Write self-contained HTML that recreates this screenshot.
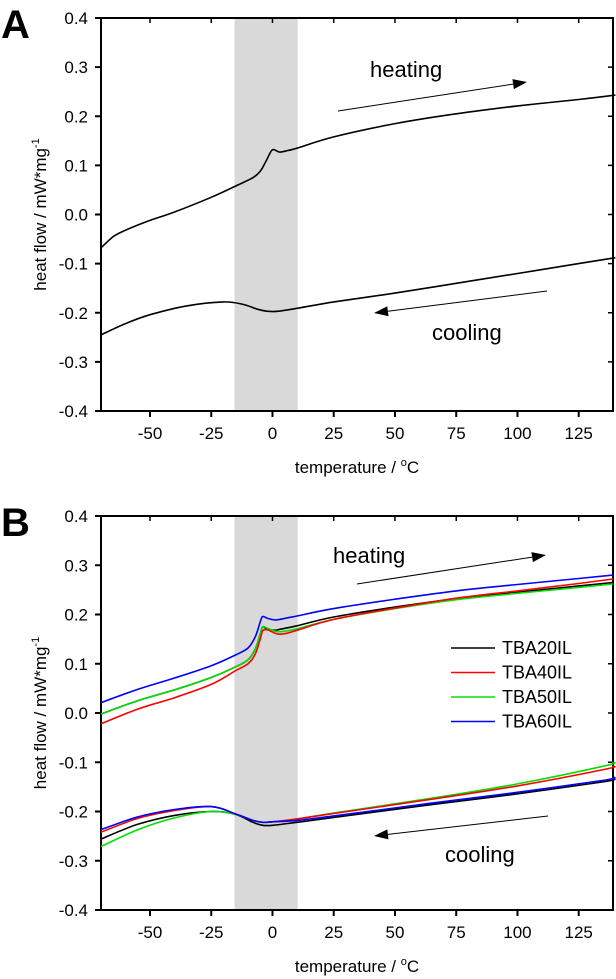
<!DOCTYPE html>
<html><head><meta charset="utf-8"><style>
html,body{margin:0;padding:0;background:#fff}
svg{display:block;font-family:"Liberation Sans",Arial,sans-serif}
</style></head><body>
<svg id="fig" width="616" height="979" viewBox="0 0 616 979"></svg>
<script>
// ---- data ----
const xTicks=[-50,-25,0,25,50,75,100,125];
const yTicks=[0.4,0.3,0.2,0.1,0.0,-0.1,-0.2,-0.3,-0.4];
const yTickLabels=["0.4","0.3","0.2","0.1","0.0","-0.1","-0.2","-0.3","-0.4"];
const aHeatT=[-70,-65,-60,-50,-40,-25,-15,-8,-5,-3,-1,0,1.5,3,6,10,25,50,75,100,125,140];
const aHeatV=[-0.068,-0.045,-0.032,-0.012,0.005,0.035,0.058,0.075,0.088,0.105,0.125,0.132,0.13,0.127,0.13,0.135,0.158,0.185,0.205,0.221,0.234,0.243];
const aCoolT=[-70,-60,-50,-35,-20,-12,-6,-2,2,10,25,50,75,100,125,140];
const aCoolV=[-0.245,-0.222,-0.204,-0.186,-0.178,-0.183,-0.193,-0.197,-0.197,-0.191,-0.178,-0.16,-0.14,-0.12,-0.1,-0.088];
const bNames=["TBA20IL","TBA40IL","TBA50IL","TBA60IL"];
const bHeatT=[-70,-55,-40,-25,-15,-10,-7,-5,-4,-2,1,3,6,10,25,50,75,100,125,139];
const bHeat20=[-0.002,0.025,0.047,0.072,0.094,0.108,0.13,0.16,0.175,0.17,0.168,0.17,0.173,0.177,0.195,0.215,0.232,0.245,0.258,0.265];
const bHeat40=[-0.022,0.008,0.031,0.058,0.086,0.1,0.12,0.15,0.167,0.169,0.162,0.16,0.162,0.168,0.19,0.213,0.233,0.248,0.263,0.272];
const bHeat50=[-0.002,0.025,0.047,0.072,0.094,0.108,0.13,0.16,0.175,0.172,0.166,0.165,0.167,0.171,0.19,0.212,0.23,0.243,0.255,0.262];
const bHeat60=[0.021,0.048,0.071,0.096,0.118,0.132,0.155,0.185,0.196,0.192,0.189,0.19,0.193,0.197,0.212,0.231,0.248,0.261,0.273,0.28];
const bCoolT=[-70,-55,-40,-25,-15,-8,-4,0,10,25,65,100,136,139];
const bCool20=[-0.256,-0.226,-0.208,-0.2,-0.206,-0.222,-0.228,-0.228,-0.222,-0.212,-0.186,-0.164,-0.139,-0.133];
const bCool40=[-0.242,-0.214,-0.198,-0.19,-0.205,-0.218,-0.222,-0.221,-0.215,-0.204,-0.175,-0.148,-0.114,-0.108];
const bCool50=[-0.271,-0.237,-0.213,-0.2,-0.206,-0.218,-0.222,-0.221,-0.215,-0.203,-0.173,-0.144,-0.107,-0.1];
const bCool60=[-0.237,-0.211,-0.196,-0.19,-0.205,-0.218,-0.222,-0.221,-0.218,-0.209,-0.183,-0.161,-0.136,-0.13];
const colors=["#000000","#ff0000","#00e000","#0000ff"];

const NS="http://www.w3.org/2000/svg";
const svg=document.getElementById('fig');
function mk(tag,attrs,parent){const e=document.createElementNS(NS,tag);for(const k in attrs)e.setAttribute(k,attrs[k]);(parent||svg).appendChild(e);return e;}
const X0=101,X1=613,T0=-70,T1=139;
function sx(t){return X0+(t-T0)*(X1-X0)/(T1-T0);}
function smooth(pts){let d="M"+pts[0][0].toFixed(1)+","+pts[0][1].toFixed(1);
 for(let i=0;i<pts.length-1;i++){const p0=pts[Math.max(0,i-1)],p1=pts[i],p2=pts[i+1],p3=pts[Math.min(pts.length-1,i+2)];
  const c1=[p1[0]+(p2[0]-p0[0])/6,p1[1]+(p2[1]-p0[1])/6],c2=[p2[0]-(p3[0]-p1[0])/6,p2[1]-(p3[1]-p1[1])/6];
  d+="C"+c1.map(v=>v.toFixed(1)).join(",")+" "+c2.map(v=>v.toFixed(1)).join(",")+" "+p2[0].toFixed(1)+","+p2[1].toFixed(1);}
 return d;}

function panel(letter,Ytop,Ybot,pfx){
 const sy=v=>Ytop+(0.4-v)*(Ybot-Ytop)/0.8;
 const g=mk('g',{});
 
 
 const sh=mk('rect',{x:sx(-15.5),y:Ytop,width:sx(10.3)-sx(-15.5),height:Ybot-Ytop,fill:'#d9d9d9'},g);
 
 
 const fr=mk('rect',{x:X0,y:Ytop,width:X1-X0,height:Ybot-Ytop,fill:'none',stroke:'#000','stroke-width':2},g);
 
 
 xTicks.forEach(t=>{const x=sx(t);
  mk('line',{x1:x,x2:x,y1:Ybot,y2:Ybot+6,stroke:'#000','stroke-width':2},g);
  mk('line',{x1:x,x2:x,y1:Ytop,y2:Ytop+5,stroke:'#000','stroke-width':1.5},g);
  const tl=mk('text',{x:x,y:Ybot+28,'font-size':17,'text-anchor':'middle',fill:'#000'},g);tl.textContent=t;
  
  });
 yTicks.forEach((v,i)=>{const y=sy(v);
  mk('line',{x1:X0-6,x2:X0,y1:y,y2:y,stroke:'#000','stroke-width':2},g);
  mk('line',{x1:X1-5,x2:X1,y1:y,y2:y,stroke:'#000','stroke-width':1.5},g);
  const tl=mk('text',{x:88,y:y+6,'font-size':17,'text-anchor':'end',fill:'#000'},g);tl.textContent=yTickLabels[i];
  
  });
 const xt=mk('text',{x:357,y:Ybot+62,'font-size':17,'text-anchor':'middle'},g);
 xt.innerHTML='temperature / <tspan font-size="11" dy="-7">o</tspan><tspan dy="7">C</tspan>';
 
 
 const cy=(Ytop+Ybot)/2;
 const yt=mk('text',{x:0,y:0,'font-size':17,'text-anchor':'middle',transform:`translate(46,${cy}) rotate(-90)`},g);
 yt.innerHTML='heat flow / mW*mg<tspan font-size="11" dy="-7">-1</tspan>';
 
 
 const L=mk('text',{x:1,y:Ytop+20,'font-size':40,'font-weight':'bold'},g);L.textContent=letter;
 
 
 return {g,sy};
}
function curve(g,sy,T,V,col,name){
 const p=mk('path',{d:smooth(T.map((t,i)=>[sx(t),sy(V[i])])),fill:'none',stroke:col,'stroke-width':1.6},g);
 
 
}
function arrow(g,x1,y1,x2,y2,name){
 const a=Math.atan2(y2-y1,x2-x1),L=14,W=5;
 const bx=x2-L*Math.cos(a),by=y2-L*Math.sin(a);
 const grp=mk('g',{},g);
 
 
 mk('line',{x1:x1,y1:y1,x2:bx,y2:by,stroke:'#000','stroke-width':1},grp);
 mk('polygon',{points:`${x2},${y2} ${bx-W*Math.sin(a)},${by+W*Math.cos(a)} ${bx+W*Math.sin(a)},${by-W*Math.cos(a)}`,fill:'#000'},grp);
}
function label(g,x,y,txt,name){const t=mk('text',{x:x,y:y,'font-size':22},g);t.textContent=txt;
 
 }

// Panel A
const A=panel('A',18,411,'a');
curve(A.g,A.sy,aHeatT,aHeatV,'#000','heating-curve');
curve(A.g,A.sy,aCoolT,aCoolV,'#000','cooling-curve');
label(A.g,370,77,'heating','heating-label');
arrow(A.g,338,111,527,82,'heating-arrow');
label(A.g,432,340,'cooling','cooling-label');
arrow(A.g,547,291,374,313,'cooling-arrow');

// Panel B
const B=panel('B',516,910,'b');
const bh=[bHeat20,bHeat40,bHeat50,bHeat60],bc=[bCool20,bCool40,bCool50,bCool60];
[0,2,1,3].forEach(i=>{curve(B.g,B.sy,bHeatT,bh[i],colors[i],'heating-'+bNames[i].toLowerCase());
 curve(B.g,B.sy,bCoolT,bc[i],colors[i],'cooling-'+bNames[i].toLowerCase());});
label(B.g,333,563,'heating','heating-label-b');
arrow(B.g,357,584,546,555,'heating-arrow-b');
label(B.g,445,862,'cooling','cooling-label-b');
arrow(B.g,548,816,374,836,'cooling-arrow-b');
const lg=mk('g',{},B.g);


bNames.forEach((n,i)=>{const y=648+i*24.5;
 const e=mk('g',{},lg);
 
 
 mk('line',{x1:451,x2:495,y1:y,y2:y,stroke:colors[i],'stroke-width':1.6},e);
 const t=mk('text',{x:502,y:y+6,'font-size':18},e);t.textContent=n;});
</script>
</body></html>
